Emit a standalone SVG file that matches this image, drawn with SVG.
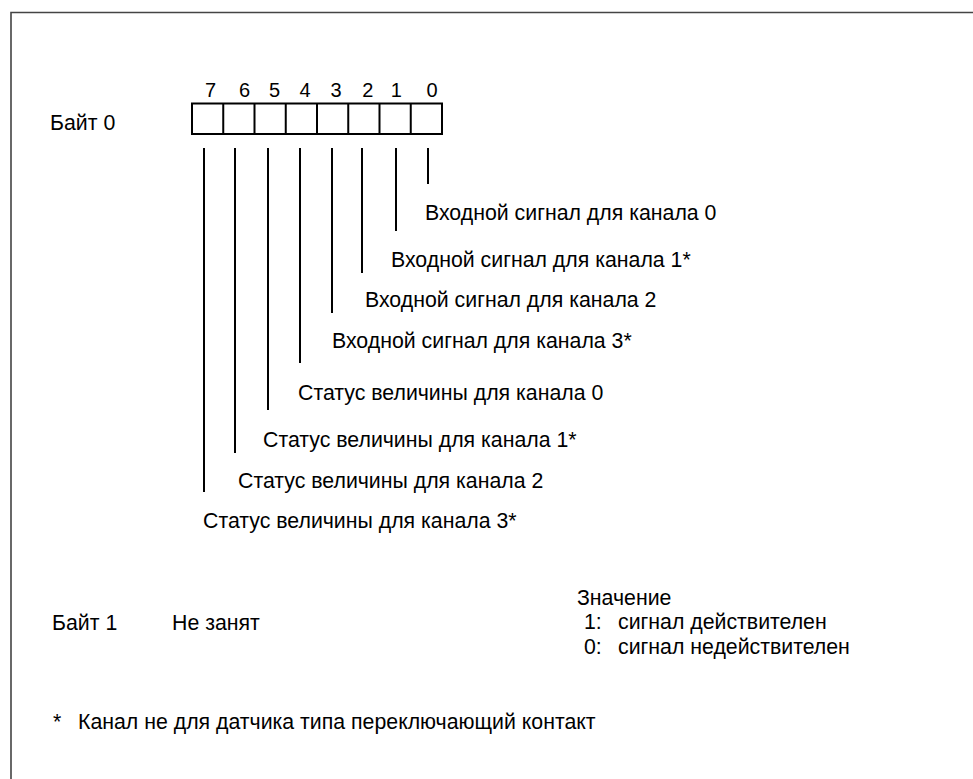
<svg xmlns="http://www.w3.org/2000/svg" width="973" height="779" viewBox="0 0 973 779">
<style>
text{font-family:"Liberation Sans",Arial,sans-serif;font-size:21.3px;fill:#000}
.dg{font-size:20px}
.ln{stroke:#000;stroke-width:2;fill:none}
.frame{stroke:#444;stroke-width:1.6;fill:none}
</style>
<rect x="0" y="0" width="973" height="779" fill="#fff"/>
<path class="frame" d="M973 12.5H11V779"/>
<g id="byte0">
<text x="50" y="130">Байт 0</text>
<g id="digits" text-anchor="middle">
<text class="dg" x="210.5" y="97">7</text>
<text class="dg" x="244.5" y="97">6</text>
<text class="dg" x="274.5" y="97">5</text>
<text class="dg" x="305" y="97">4</text>
<text class="dg" x="336" y="97">3</text>
<text class="dg" x="367.7" y="97">2</text>
<text class="dg" x="396.4" y="97">1</text>
<text class="dg" x="432" y="97">0</text>
</g>
<g id="register">
<rect class="ln" x="192" y="103.5" width="250" height="30.5"/>
<path class="ln" d="M223.25 103.5V134M254.5 103.5V134M285.75 103.5V134M317 103.5V134M348.25 103.5V134M379.5 103.5V134M410.75 103.5V134"/>
</g>
</g>
<g id="connectors">
<path class="ln" d="M428 148V184M396 148V231M362 148V273M332 148V313M300 148V363M268 148V410M235 148V453M204 148V492"/>
</g>
<g id="labels">
<text x="425" y="220">Входной сигнал для канала 0</text>
<text x="391" y="267">Входной сигнал для канала 1*</text>
<text x="365" y="306.5">Входной сигнал для канала 2</text>
<text x="332" y="348">Входной сигнал для канала 3*</text>
<text x="298" y="399.5">Статус величины для канала 0</text>
<text x="263" y="447">Статус величины для канала 1*</text>
<text x="238" y="488">Статус величины для канала 2</text>
<text x="203" y="528">Статус величины для канала 3*</text>
</g>
<g id="byte1">
<text x="52" y="630">Байт 1</text>
<text x="172" y="630">Не занят</text>
</g>
<g id="legend">
<text x="577" y="605">Значение</text>
<text x="584" y="629">1:</text>
<text x="618" y="629">сигнал действителен</text>
<text x="584" y="654">0:</text>
<text x="618" y="654">сигнал недействителен</text>
</g>
<g id="footnote">
<text x="53" y="729">*</text>
<text x="78" y="729">Канал не для датчика типа переключающий контакт</text>
</g>
</svg>
